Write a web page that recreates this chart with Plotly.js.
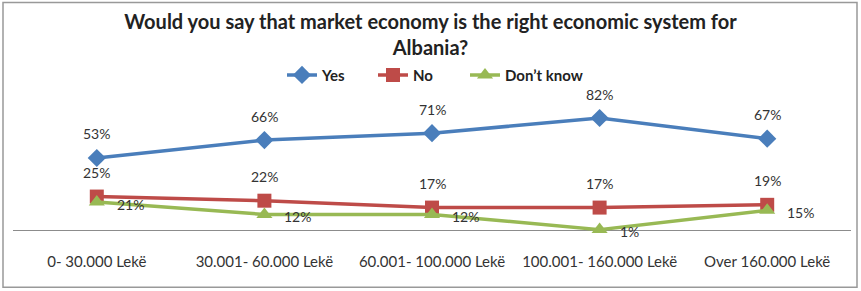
<!DOCTYPE html>
<html><head><meta charset="utf-8">
<script src="https://cdn.plot.ly/plotly-3.0.1.min.js"></script>
<style>html,body{margin:0;padding:0;background:#fff}#chart{width:861px;height:291px}</style>
</head><body><div id="chart"></div>
<script>
const categories = ["0- 30.000 Lekë", "30.001- 60.000 Lekë", "60.001- 100.000 Lekë", "100.001- 160.000 Lekë", "Over 160.000 Lekë"];
const yesValues = [53, 66, 71, 82, 67];
const noValues = [25, 22, 17, 17, 19];
const dontKnowValues = [21, 12, 12, 1, 15];
const seriesNames = ["Yes", "No", "Don’t know"];

const FONT = "Lato, 'Open Sans', sans-serif";
const colors = ["#4A7EBB", "#BE4B48", "#98B954"];
const symbols = ["diamond", "square", "triangle-up"];
const sizes = [14, 14, 14];
const legendIds = ["legend", "legend2", "legend3"];
const legendX = [282, 373, 465];
const allValues = [yesValues, noValues, dontKnowValues];

const traces = allValues.map((vals, i) => ({
  type: "scatter", mode: "lines+markers", x: categories, y: vals, name: seriesNames[i],
  line: {color: colors[i], width: 3.5},
  marker: {symbol: symbols[i], size: sizes[i], color: colors[i]},
  cliponaxis: false, hoverinfo: "skip", legend: legendIds[i]
}));

const annotations = [];
const labelFont = {family: FONT, size: 14, color: "#333333"};
[yesValues, noValues].forEach(vals => vals.forEach((v, j) => annotations.push({
  x: categories[j], y: v, xref: "x", yref: "y", text: v + "%", showarrow: false,
  yshift: 24, font: labelFont
})));
dontKnowValues.forEach((v, j) => annotations.push({
  x: categories[j], y: v, xref: "x", yref: "y", text: v + "%", showarrow: false,
  xanchor: "left", xshift: 18, yshift: -2, font: labelFont
}));

const layout = {
  width: 861, height: 291,
  margin: {l: 13, r: 10, t: 107, b: 60},
  paper_bgcolor: "#fff", plot_bgcolor: "#fff",
  font: {family: FONT, color: "#333"},
  title: {
    text: "<b>Would you say that market economy is the right economic system for<br>Albania?</b>",
    font: {family: FONT, size: 20, color: "#222"},
    x: 0.5, xanchor: "center", y: 0.9, yanchor: "top", yref: "container"
  },
  showlegend: true,
  xaxis: {
    type: "category", range: [-0.5, 4.5], showgrid: false, zeroline: false,
    showline: false, ticks: "outside", ticklen: 17, tickcolor: "rgba(0,0,0,0)",
    tickfont: {family: FONT, size: 15, color: "#333"}, fixedrange: true
  },
  yaxis: {
    range: [0, 90], showgrid: false, zeroline: false, showline: false,
    showticklabels: false, ticks: "", fixedrange: true
  },
  shapes: [
    {type: "line", xref: "paper", yref: "y", x0: 0, x1: 1, y0: 0, y1: 0, line: {color: "#8C8C8C", width: 2}, layer: "below"},
    {type: "rect", xref: "paper", yref: "paper",
     x0: (3 - 13) / 838, x1: (857 - 13) / 838,
     y0: (231.5 - 288) / 124.5, y1: (231.5 - 2) / 124.5,
     line: {color: "#999", width: 1.5}, fillcolor: "rgba(0,0,0,0)"}
  ],
  annotations: annotations
};
legendIds.forEach((id, i) => {
  layout[id] = {
    orientation: "h", x: (legendX[i] - 13) / 838, xanchor: "left", y: 1.39, yanchor: "top",
    font: {family: FONT, size: 15, color: "#222", weight: "bold"},
    itemwidth: 30, bgcolor: "rgba(0,0,0,0)"
  };
});
Plotly.newPlot("chart", traces, layout, {displayModeBar: false, staticPlot: true});
</script></body></html>
